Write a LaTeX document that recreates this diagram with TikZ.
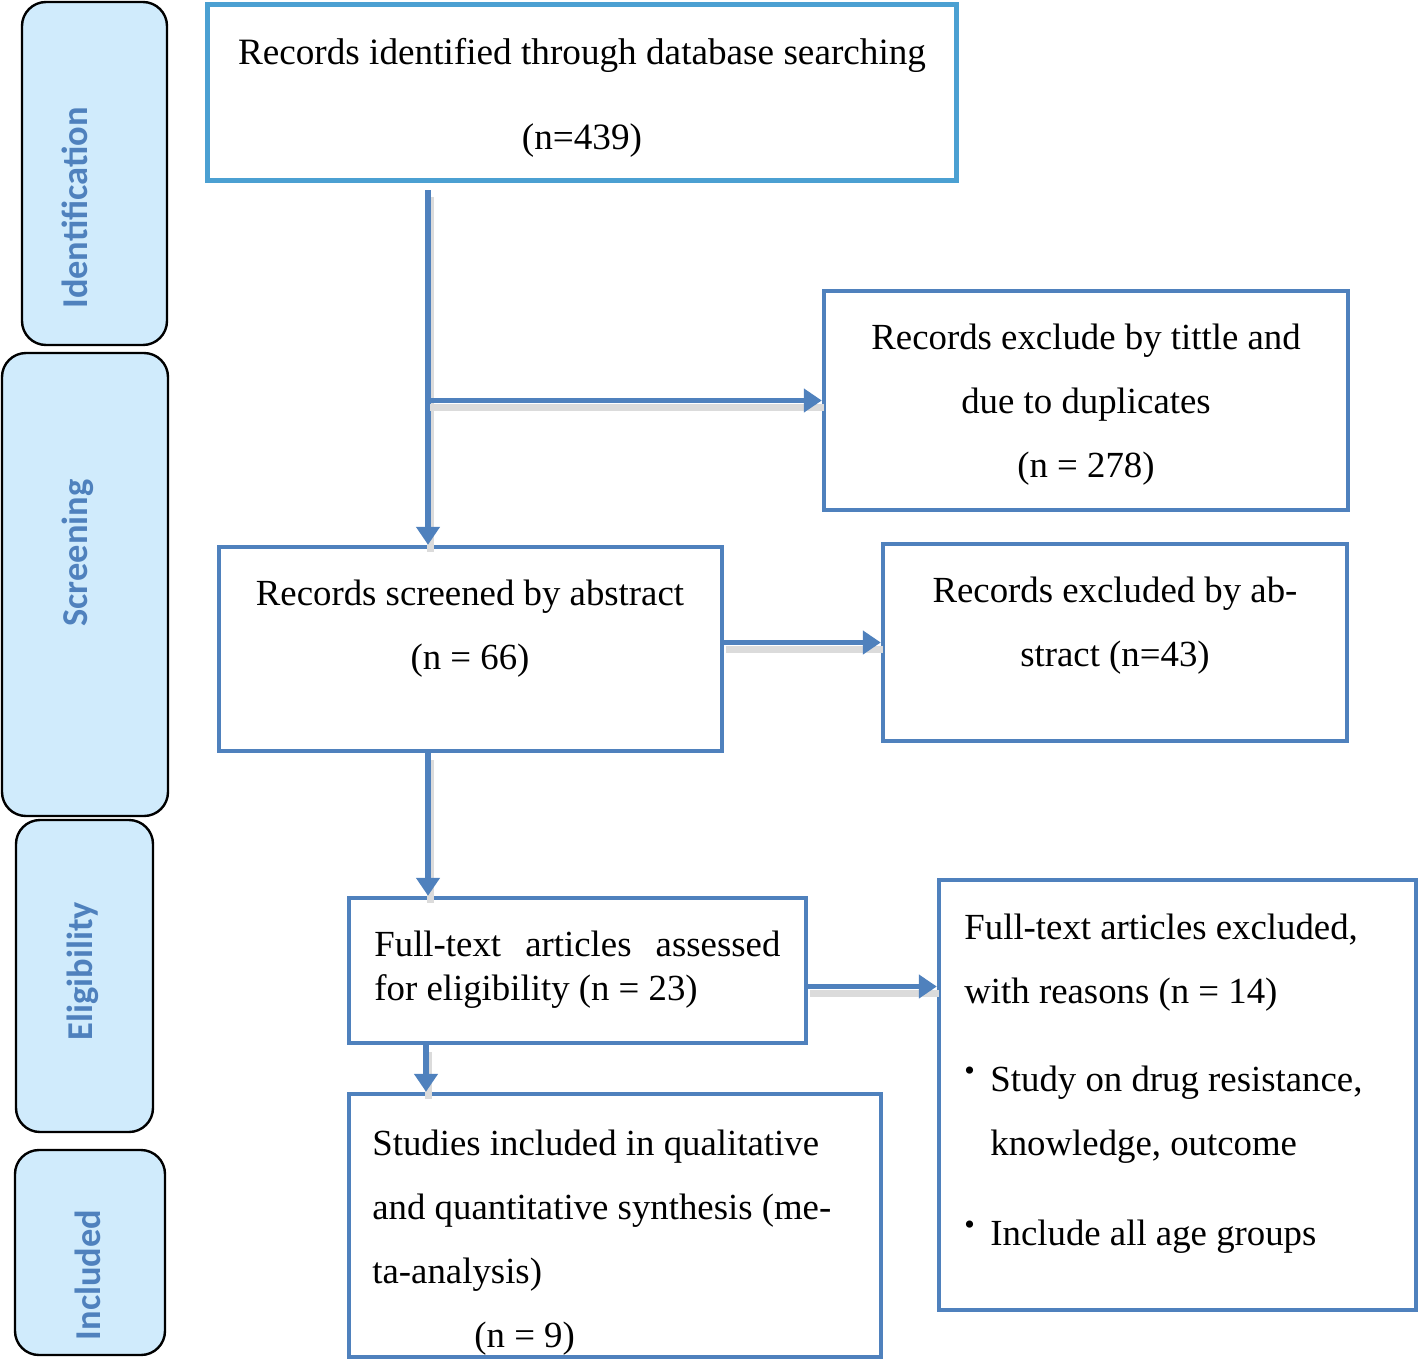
\documentclass[tikz,border=0pt]{standalone}
\usepackage{fontspec}
\setmainfont{Liberation Serif}
\newfontfamily\bandfont{Carlito}
\usetikzlibrary{arrows.meta,fit,positioning}

\definecolor{flowblue}{HTML}{4F81BD}
\definecolor{topblue}{HTML}{4BA0D2}
\definecolor{bandfill}{HTML}{D0EBFC}

\tikzset{
	box/.style={draw=flowblue, line width=2.2pt, inner sep=0pt},
	band/.style={draw=black, fill=bandfill, line width=1.2pt, rounded corners=12pt, inner sep=0pt},
	bandtxt/.style={font=\bandfont\bfseries\fontsize{18.2}{20}\selectfont, text=flowblue, rotate=90, inner sep=0pt},
	txt/.style={inner sep=0pt, font=\fontsize{18.4}{32}\selectfont},
	flow/.style={draw=flowblue, line width=2.9pt, -{Triangle[length=9pt,width=11.5pt]},
		preaction={draw=black!14, line width=3.5pt, -, transform canvas={shift={(1pt,-3.5pt)}}}},
}
\newcommand{\bul}{\makebox[13pt][l]{\raisebox{0.3em}{\fontsize{15}{15}\selectfont\textbullet}}}

\begin{document}
\begin{tikzpicture}[x=0.5pt, y=-0.5pt]
	\useasboundingbox (0,0) rectangle (1418,1360);

	% phase bands
	\node[band, fit={(22,2) (167,345)}] (ident) {};
	\node[band, fit={(2,353) (168,816)}] (screen) {};
	\node[band, fit={(16,820) (153,1132)}] (elig) {};
	\node[band, fit={(15,1150) (165,1355)}] (incl) {};
	\node[bandtxt] (identlbl) at (75,208) {Identification};
	\node[bandtxt] (screenlbl) at (78,553) {Screening};
	\node[bandtxt] (eliglbl) at (83,971) {Eligibility};
	\node[bandtxt] (incllbl) at (88,1275) {Included};

	% boxes
	\node[box, draw=topblue, line width=2.5pt, fit={(207,4) (956,180)}] (records) {};
	\node[box, fit={(824,291) (1348,510)}] (dupl) {};
	\node[box, fit={(219,547) (722,751)}] (screened) {};
	\node[box, fit={(883,544) (1347,741)}] (abstr) {};
	\node[box, fit={(349,898) (806,1043)}] (fulltext) {};
	\node[box, fit={(939,880) (1416,1310)}] (ftexcl) {};
	\node[box, fit={(349,1094) (881,1357)}] (included) {};

	% texts
	\node[txt, font=\fontsize{18.6}{42.5}\selectfont, align=center, anchor=north] (recordstxt) at (582,38)
		{Records identified through database searching\\(n=439)};
	\node[txt, align=center, anchor=north] (dupltxt) at (1086,324)
		{Records exclude by tittle and\\due to duplicates\\(n = 278)};
	\node[txt, align=center, anchor=north] (screenedtxt) at (470,580)
		{Records screened by abstract\\(n = 66)};
	\node[txt, align=center, anchor=north] (abstrtxt) at (1115,577)
		{Records excluded by ab-\\stract (n=43)};
	\node[txt, font=\fontsize{18.4}{22}\selectfont, text width=203pt, align=flush left, anchor=north west] (fulltexttxt) at (374,931)
		{Full-text\hfill articles\hfill assessed\\for eligibility (n = 23)};
	\node[txt, align=left, anchor=north west] (ftexcltxt) at (964,914)
		{Full-text articles excluded,\\with reasons (n = 14)\\[12pt]
		\bul Study on drug resistance,\\\hspace*{13pt}knowledge, outcome\\[13pt]
		\bul Include all age groups};
	\node[txt, align=left, anchor=north west] (includedtxt) at (372,1130)
		{Studies included in qualitative\\and quantitative synthesis (me-\\ta-analysis)\\\hspace*{51pt}(n = 9)};

	% arrows
	\coordinate (trunk) at (428,190);
	\draw[flow] (trunk) -- (trunk |- screened.north);
	\draw[flow] (trunk |- dupl.west) -- (dupl.west);
	\draw[flow] (abstr.west -| screened.east) -- (abstr.west);
	\draw[flow] (trunk |- screened.south) -- (trunk |- fulltext.north);
	\draw[flow] ([yshift=-8pt]fulltext.east) -- ([yshift=-8pt]fulltext.east -| ftexcl.west);
	\draw[flow] ([xshift=-1pt]trunk |- fulltext.south) -- ([xshift=-1pt]trunk |- included.north);
\end{tikzpicture}
\end{document}
